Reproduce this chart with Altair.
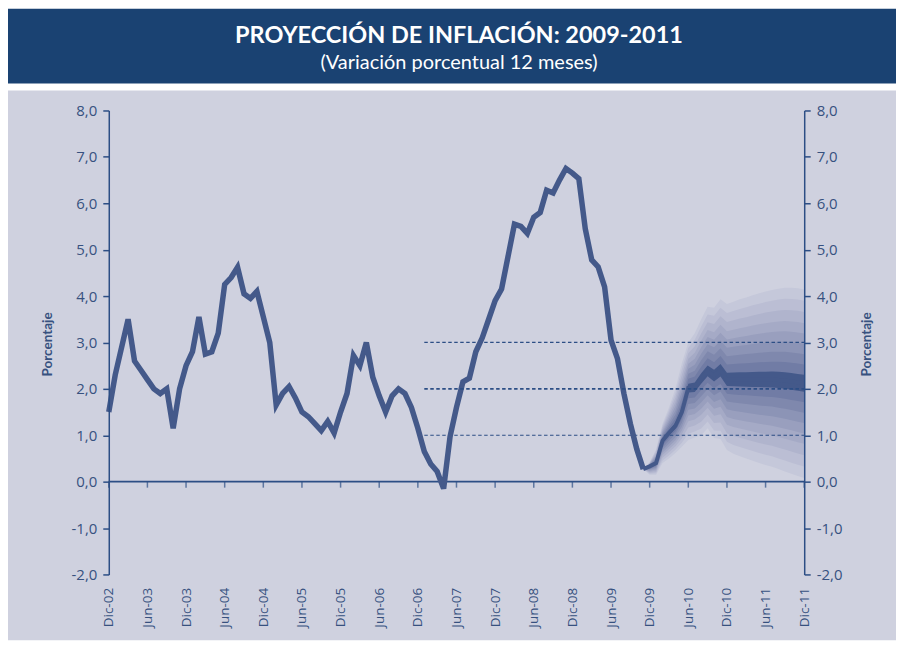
import json
import altair as alt
import pandas as pd

# ---------------- data ----------------
# Historical 12-month inflation, monthly from Dec-02 (index 0) to Nov-09 (index 83)
hist_values = [
    1.50, 2.30, 2.90, 3.50, 2.60, 2.40, 2.20, 2.00, 1.90, 2.00, 1.15, 2.00,   # Dic-02 .. Nov-03
    2.50, 2.80, 3.55, 2.75, 2.80, 3.20, 4.25, 4.40, 4.62, 4.05, 3.95, 4.10,   # Dic-03 .. Nov-04
    3.55, 3.00, 1.65, 1.90, 2.05, 1.80, 1.50, 1.40, 1.25, 1.10, 1.30, 1.05,   # Dic-04 .. Nov-05
    1.50, 1.90, 2.72, 2.50, 3.00, 2.25, 1.85, 1.50, 1.85, 2.00, 1.90, 1.60,   # Dic-05 .. Nov-06
    1.15, 0.65, 0.38, 0.22, -0.15, 0.97, 1.60, 2.15, 2.23, 2.80, 3.10, 3.50,  # Dic-06 .. Nov-07
    3.90, 4.15, 4.85, 5.55, 5.50, 5.35, 5.70, 5.80, 6.28, 6.22, 6.50, 6.75,   # Dic-07 .. Nov-08
    6.65, 6.53, 5.45, 4.78, 4.63, 4.20, 3.05, 2.65, 1.90, 1.25, 0.70, 0.27,   # Dic-08 .. Nov-09
]

# Projection fan, monthly from Nov-09 (index 83) to Dic-11 (index 108)
fan_start = 83
fan_median = [0.27, 0.33, 0.40, 0.88, 1.05, 1.20, 1.50, 2.02, 2.03, 2.22, 2.38, 2.28, 2.40,
              2.20, 2.20, 2.20, 2.20, 2.20, 2.20, 2.20, 2.20, 2.19, 2.18, 2.16, 2.14, 2.12]
fan_upper = [0.27, 0.42, 0.70, 1.25, 1.60, 2.00, 2.55, 3.00, 3.20, 3.50, 3.77, 3.75, 3.93,
             3.83, 3.88, 3.93, 3.97, 4.02, 4.06, 4.10, 4.13, 4.16, 4.18, 4.18, 4.17, 4.14]
fan_lower = [0.27, 0.15, 0.15, 0.40, 0.50, 0.62, 0.75, 0.90, 0.95, 1.00, 1.15, 0.94, 0.92,
             0.68, 0.60, 0.55, 0.50, 0.45, 0.40, 0.36, 0.32, 0.27, 0.22, 0.17, 0.12, 0.08]
# relative width of each band (outer -> inner)
band_levels = [1.00, 0.88, 0.76, 0.64, 0.53, 0.42, 0.31, 0.20, 0.09]

ref_levels = [1.0, 2.0, 3.0]
ref_start, ref_end = 49, 108

x_tick_values = list(range(0, 109, 6))
x_tick_labels = ["Dic-02", "Jun-03", "Dic-03", "Jun-04", "Dic-04", "Jun-05", "Dic-05",
                 "Jun-06", "Dic-06", "Jun-07", "Dic-07", "Jun-08", "Dic-08", "Jun-09",
                 "Dic-09", "Jun-10", "Dic-10", "Jun-11", "Dic-11"]
y_ticks = list(range(-2, 9))

title_text = "PROYECCIÓN DE INFLACIÓN: 2009-2011"
subtitle_text = "(Variación porcentual 12 meses)"
axis_title = "Porcentaje"

# ---------------- styles ----------------
band_colors = ["#c5c8da", "#bbbed4", "#b0b4cd", "#a5aac6", "#999fbe", "#8c94b6",
               "#7f88ad", "#717ca5", "#44598a"]
LINE = "#44598a"
AXIS = "#2c4e85"
TEXT = "#37517f"
PANEL = "#cfd1df"
HEADER = "#1a4272"
FONT = "Open Sans"

W, H = 697, 465
PAD = {"left": 101, "top": 102, "right": 92, "bottom": 66}

xscale = alt.Scale(domain=[0, 108], nice=False, zero=False)
yscale = alt.Scale(domain=[-2, 8], nice=False, zero=False)

hist_df = pd.DataFrame({"m": list(range(len(hist_values))), "v": hist_values})
med_df = pd.DataFrame({"m": [fan_start + i for i in range(len(fan_median))], "v": fan_median})

one = pd.DataFrame({"k": [0]})

x_labels_expr = json.dumps(x_tick_labels) + "[round(datum.value/6)]"
y_labels_expr = "(datum.value < 0 ? '-' : '') + abs(datum.value) + ',0'"

x_axis = alt.Axis(values=x_tick_values, labelExpr=x_labels_expr, domain=False, ticks=False,
                  grid=False, title=None, labelAngle=270, labelAlign="right",
                  labelBaseline="middle", labelPadding=13, labelFont=FONT, labelFontSize=13.5,
                  labelColor=TEXT, zindex=1, labelOverlap=False, labelSeparation=0)


def X(field):
    return alt.X(field, scale=xscale, axis=x_axis)


def y_axis(orient, title_x):
    return alt.Axis(orient=orient, values=y_ticks, labelExpr=y_labels_expr, grid=False,
                    domainColor=AXIS, domainWidth=1.5, tickColor=AXIS, tickWidth=1.5,
                    tickSize=6, labelPadding=6, labelFont=FONT, labelFontSize=15,
                    labelColor=TEXT, title=axis_title, titleX=title_x, titleY=234,
                    titleAngle=270, titleAlign="center", titleBaseline="middle",
                    titleFont="Lato", titleFontWeight="bold", titleFontSize=13.5,
                    titleColor=TEXT, zindex=1, labelOverlap=False)


panel = alt.Chart(one).mark_rect(color=PANEL).encode(
    x=alt.value(-PAD["left"]), x2=alt.value(W + PAD["right"]),
    y=alt.value(-20), y2=alt.value(H + PAD["bottom"]))
header = alt.Chart(one).mark_rect(color=HEADER).encode(
    x=alt.value(-PAD["left"]), x2=alt.value(W + PAD["right"]),
    y=alt.value(-PAD["top"]), y2=alt.value(-27))
title = alt.Chart(one).mark_text(text=title_text, font="Lato", fontWeight="bold",
                                 fontSize=23.5, color="white", align="center",
                                 baseline="alphabetic").encode(
    x=alt.value(351), y=alt.value(-67.5))
subtitle = alt.Chart(one).mark_text(text=subtitle_text, font="Lato", fontSize=20,
                                    color="white", align="center",
                                    baseline="alphabetic").encode(
    x=alt.value(351), y=alt.value(-41.5))

layers = [panel, header, title, subtitle]

for lvl, col in zip(band_levels, band_colors):
    rows = []
    for i, (md, up, lo) in enumerate(zip(fan_median, fan_upper, fan_lower)):
        rows.append({"m": fan_start + i, "hi": md + lvl * (up - md), "lo": md - lvl * (md - lo)})
    layers.append(alt.Chart(pd.DataFrame(rows)).mark_area(color=col, opacity=1).encode(
        x=X("m:Q"),
        y=alt.Y("lo:Q", scale=yscale, axis=y_axis("left", -61)),
        y2="hi:Q"))

zero = alt.Chart(pd.DataFrame({"a": [0], "b": [108], "z": [0]})).mark_rule(
    color=AXIS, strokeWidth=1.6).encode(
    x=X("a:Q"), x2="b:Q", y=alt.Y("z:Q", scale=yscale))
ticks = alt.Chart(pd.DataFrame({"m": x_tick_values, "z": [0] * len(x_tick_values)})).mark_tick(
    orient="vertical", color=AXIS, size=6, thickness=1.5, yOffset=3).encode(
    x=X("m:Q"), y=alt.Y("z:Q", scale=yscale))

ref_df = pd.DataFrame({"lvl": ref_levels, "x0": [ref_start] * 3, "x1": [ref_end] * 3})
refs_thin = alt.Chart(ref_df[ref_df.lvl != 2.0]).mark_rule(
    color=AXIS, strokeWidth=1.2, strokeDash=[3.5, 2.5]).encode(
    x=X("x0:Q"), x2="x1:Q", y=alt.Y("lvl:Q", scale=yscale))

median = alt.Chart(med_df).mark_line(color=LINE, strokeWidth=4).encode(
    x=X("m:Q"), y=alt.Y("v:Q", scale=yscale))
hist = alt.Chart(hist_df).mark_line(color=LINE, strokeWidth=5.5, strokeJoin="miter").encode(
    x=X("m:Q"), y=alt.Y("v:Q", scale=yscale))

layers += [zero, ticks, refs_thin, median, hist]
left = alt.layer(*layers)

right = alt.Chart(ref_df[ref_df.lvl == 2.0]).mark_rule(
    color=AXIS, strokeWidth=1.8, strokeDash=[3.5, 2.5]).encode(
    x=X("x0:Q"), x2="x1:Q",
    y=alt.Y("lvl:Q", scale=yscale, axis=y_axis("right", 62)))

chart = alt.layer(left, right).resolve_scale(y="independent").properties(
    width=W, height=H, padding=PAD, autosize=alt.AutoSizeParams(type="none"),
    background="white"
).configure_view(stroke=None).configure_axis(labelOverlap=False)

chart.save("out.html", embed_options={"renderer": "svg", "actions": False})
